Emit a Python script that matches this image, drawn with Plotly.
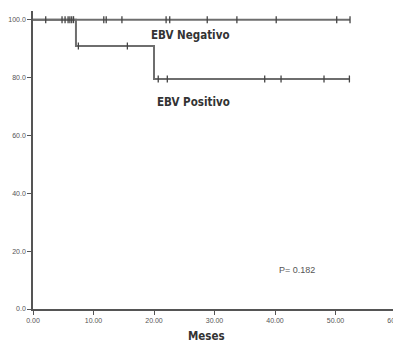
import plotly.graph_objects as go

# Kaplan-Meier step data (months, % survival)
neg_times = [0, 52.4]
neg_surv = [100, 100]
neg_censor_t = [2.1, 4.8, 5.3, 5.8, 6.1, 6.4, 6.7, 11.7, 12.1, 14.7, 22.0, 22.6,
                28.8, 33.7, 40.2, 50.2, 52.4]
neg_censor_s = [100] * len(neg_censor_t)

pos_times = [0, 7.1, 20.0, 52.4]
pos_surv = [100, 90.9, 79.5, 79.5]
pos_censor_t = [7.5, 15.6, 20.7, 22.2, 38.3, 41.0, 48.1, 52.3]
pos_censor_s = [90.9, 90.9, 79.5, 79.5, 79.5, 79.5, 79.5, 79.5]

x_ticks = [0, 10, 20, 30, 40, 50, 60]
x_tick_labels = ["0.00", "10.00", "20.00", "30.00", "40.00", "50.00", "60.00"]
y_ticks = [0, 20, 40, 60, 80, 100]
y_tick_labels = ["0.0", "20.0", "40.0", "60.0", "80.0", "100.0"]

line_col = "#6e6e6e"
mark_col = "#444444"

fig = go.Figure()
for t, s in [(neg_times, neg_surv), (pos_times, pos_surv)]:
    fig.add_trace(go.Scatter(x=t, y=s, mode="lines", line=dict(shape="hv", color=line_col, width=2),
                             showlegend=False, hoverinfo="skip"))
for t, s in [(neg_censor_t, neg_censor_s), (pos_censor_t, pos_censor_s)]:
    fig.add_trace(go.Scatter(x=t, y=s, mode="markers",
                             marker=dict(symbol="line-ns-open", size=5, color=mark_col,
                                         line=dict(color=mark_col, width=1.3)),
                             showlegend=False, hoverinfo="skip"))

lab_font = dict(family="DejaVu Sans Condensed", size=11.5, color="#333333", weight="bold")
fig.add_annotation(x=26.0, y=94.7, text="EBV Negativo", showarrow=False, font=lab_font)
fig.add_annotation(x=26.6, y=71.6, text="EBV Positivo", showarrow=False, font=lab_font)
fig.add_annotation(x=43.6, y=13.5, text="P= 0.182", showarrow=False,
                   font=dict(family="Liberation Sans, Arial", size=9, color="#555555"))
fig.add_annotation(x=(206 - 33) / 363, y=(309 - 336) / 298, xref="paper", yref="paper",
                   xanchor="center", yanchor="middle",
                   text="Meses", showarrow=False, font=lab_font)

axis_common = dict(showgrid=False, zeroline=False, showline=True, linecolor="#555555", linewidth=1.5,
                   ticks="outside", ticklen=4, tickcolor="#555555", tickwidth=1, automargin=False,
                   tickfont=dict(family="Liberation Sans, Arial", size=7, color="#555555"))
fig.update_xaxes(range=[0, 60], tickvals=x_ticks, ticktext=x_tick_labels, **axis_common)
fig.update_yaxes(range=[0, 103], tickvals=y_ticks, ticktext=y_tick_labels, **axis_common)

# page body adds an 8px offset; margins compensate so the plot area lands at x 33-396, y 11-309
fig.update_layout(width=401, height=343, margin=dict(l=25, r=13, t=3, b=42, autoexpand=False),
                  paper_bgcolor="white", plot_bgcolor="white")
fig.write_html("out.html")
